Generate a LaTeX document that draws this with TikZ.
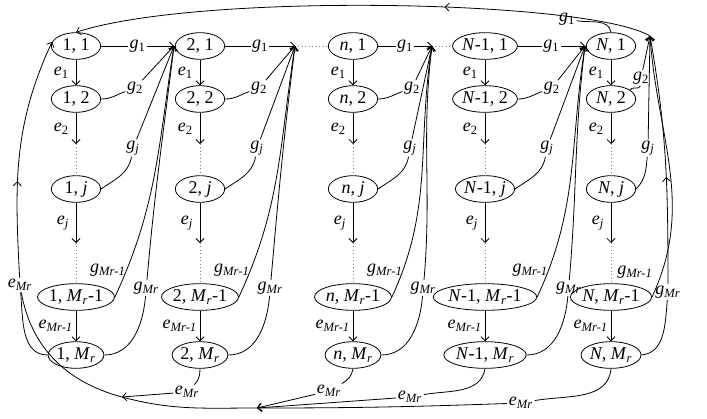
\documentclass[tikz,border=0pt]{standalone}
\usepackage{fontspec}
\setmainfont{Liberation Serif}
\usetikzlibrary{shapes.geometric,calc,decorations.markings,arrows.meta}

\newcommand{\gl}[1]{\textit{g}\textsubscript{#1}}
\newcommand{\el}[1]{\textit{e}\textsubscript{#1}}
\newcommand{\Mr}{\textit{M}\textsubscript{\textit{r}}}
\newcommand{\Mrm}{\textit{Mr-1}}

\begin{document}
\begin{tikzpicture}[x=0.75pt, y=0.75pt, line width=0.6pt, >={Straight Barb[length=3pt,width=6pt]}, font=\fontsize{13.5}{15}\selectfont]
\tikzset{state/.style={draw, ellipse, inner xsep=0pt, inner ysep=1pt, minimum width=37pt, minimum height=20pt}}
\tikzset{lab/.style={inner sep=1pt}}
\tikzset{dots/.style={dotted, gray}}
\tikzset{midtip/.style={postaction={decorate}, decoration={markings, mark=at position #1 with {\arrow{>}}}}}
\useasboundingbox (0,0) rectangle (707,-418);

% one column of states per part
\foreach \col/\x/\txt in {a/76/1, b/200/2, c/353/{\textit{n}}, d/485/{\textit{N}-1}, e/611/{\textit{N}}} {
  \node[state] (\col1) at (\x,-46) {\txt, 1};
  \node[state] (\col2) at (\x,-99) {\txt, 2};
  \node[state] (\col j) at (\x,-189) {\txt, \textit{j}};
  \node[state] (\col m1) at (\x,-297) {\txt, \Mr-1};
  \node[state] (\col m) at (\x,-355) {\txt, \Mr};
  \coordinate (\col d1) at (\x,-144);
  \coordinate (\col d2) at (\x,-243);
  \draw[->] (\col1) -- node[lab,left=4pt]{\el{1}} (\col2);
  \draw[->] (\col2) -- node[lab,left=4pt]{\el{2}} (\col d1);
  \draw[dots] (\col d1) -- (\col j);
  \draw[->] (\col j) -- node[lab,left=4pt]{\el{\textit{j}}} (\col d2);
  \draw[dots] (\col d2) -- (\col m1);
  \draw[->] (\col m1) -- node[lab,left=1pt]{\el{\Mrm}} (\col m);
}

\coordinate (ta) at (174,-46);
\coordinate (tb) at (295,-46);
\coordinate (tc) at (432,-46);
\coordinate (td) at (585,-46);
\coordinate (te) at (650,-36);
\draw[dots] (tb) -- (c1);
\draw[dots] (tc) -- (d1);

% g edges into the next column
\foreach \col in {a,b,c,d} {
  \draw[->] (\col1) -- node[lab,fill=white]{\gl{1}} (t\col);
  \node[lab] (\col g2) at ($(\col2.east)+(34,11)$) {\gl{2}};
  \draw (\col2.east) to[out=0,in=200] (\col g2);
  \draw[->] (\col g2) -- (t\col);
  \node[lab] (\col gj) at ($(\col j.east)+(32,41)$) {\gl{\textit{j}}};
  \draw (\col j.east) to[out=35,in=-100] (\col gj);
  \draw[->] (\col gj) -- (t\col);
  \node[lab] (\col gm1) at ($(\col m1.east)+(-7,27)$) {\gl{\Mrm}};
  \draw[->] (\col m1.east) to[out=65,in=-99] (t\col);
  \node[lab] (\col gm) at ($(\col m.east)+(42,67)$) {\gl{\textit{Mr}}};
  \draw (\col m.east) to[out=0,in=-95] (\col gm);
  \draw[->] (\col gm) to[out=85,in=-97] (t\col);
}

% last column back to the first
\node[lab] (eg1) at (567,-19) {\gl{1}};
\draw (e1.north) to[out=100,in=-10] (eg1);
\node[lab] (eg2) at (641,-78) {\gl{2}};
\draw (e2.25) to[out=80,in=-95] (eg2);
\draw[->] (eg2) -- (te);
\node[lab] (egj) at (648,-148) {\gl{\textit{j}}};
\draw (ej.east) to[out=45,in=-95] (egj);
\draw[->] (egj) -- (te);
\node[lab] (egm1) at (635,-272) {\gl{\Mrm}};
\draw[->] (em1.east) to[out=65,in=-86] (te);
\node[lab] (egm) at (668,-292) {\gl{\textit{Mr}}};
\draw (em.east) to[out=5,in=-95] (egm);
\draw[->, midtip=0.43] (egm) to[out=90,in=-80] (te);
\draw[->, midtip=0.36] (te) .. controls (590,0) and (200,8) .. (a1.north);

% e_Mr edges along the bottom
\coordinate (B1) at (122,-397);
\coordinate (B2) at (257,-408);
\node[lab] (ax) at (20,-285) {\el{\textit{Mr}}};
\node[lab] (bx) at (187,-392) {\el{\textit{Mr}}};
\node[lab] (cx) at (329,-391) {\el{\textit{Mr}}};
\node[lab] (dx) at (410,-397) {\el{\textit{Mr}}};
\node[lab] (ex) at (521,-403) {\el{\textit{Mr}}};
\draw[->, midtip=0.4] (ax) to[out=93,in=-115] (a1.170);
\draw (am.west) to[out=180,in=-85] (ax);
\draw (em.south) to[out=-95,in=10] (ex);
\draw (ex) to[out=182,in=0] (B2) to[out=180,in=-15] (B1) to[out=165,in=-80] (ax);
\draw (dm.south) to[out=-100,in=10] (dx);
\draw[->] (dx) -- (B2);
\draw (cm.south) to[out=-100,in=30] (cx);
\draw[->] (cx) -- (B2);
\draw (bm.south) to[out=-90,in=45] (bx);
\draw[->] (bx) -- (B1);
\end{tikzpicture}
\end{document}
